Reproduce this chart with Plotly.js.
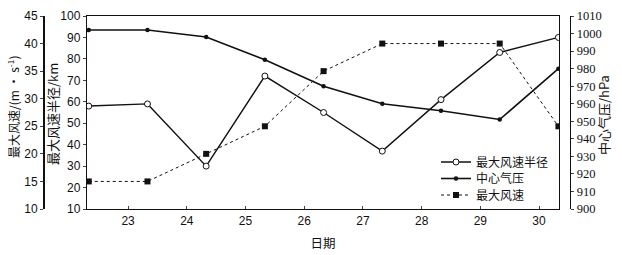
<!DOCTYPE html>
<html><head><meta charset="utf-8">
<script src="https://cdn.plot.ly/plotly-3.0.1.min.js"></script>
<style>body{margin:0;background:#fff}#c{width:622px;height:255px}</style>
</head><body><div id="c"></div>
<script>
const dates = [22.33, 23.33, 24.33, 25.33, 26.33, 27.33, 28.33, 29.33, 30.33];
const radius = [58, 59, 30, 72, 55, 37, 61, 83, 90];
const pressure = [1002, 1002, 998, 985, 970, 960, 956, 951, 980];
const wind = [15, 15, 20, 25, 35, 40, 40, 40, 25];
const xTicks = [23, 24, 25, 26, 27, 28, 29, 30];
const names = ['最大风速半径', '中心气压', '最大风速'];

const cjk = '"Noto Sans CJK SC", "Noto Sans", sans-serif';
const sans = '"Liberation Sans", Arial, sans-serif';
const serif = '"Liberation Serif", "Times New Roman", serif';

const traces = [
  {x: dates, y: radius, name: names[0], yaxis: 'y', legend: 'legend', type: 'scatter', mode: 'lines+markers',
   line: {color: '#111', width: 1.4},
   marker: {symbol: 'circle', size: 6, color: '#fff', line: {color: '#111', width: 1}}},
  {x: dates, y: pressure, name: names[1], yaxis: 'y3', legend: 'legend2', type: 'scatter', mode: 'lines+markers',
   line: {color: '#111', width: 1.6},
   marker: {symbol: 'circle', size: 4.5, color: '#111'}},
  {x: dates, y: wind, name: names[2], yaxis: 'y2', legend: 'legend3', type: 'scatter', mode: 'lines+markers',
   line: {color: '#111', width: 1, dash: 'dot'},
   marker: {symbol: 'square', size: 6, color: '#111'}}
];

const W = 622, T = 16, B = 209;
const py = p => (B - p) / (B - T);
const legFont = {family: cjk, size: 12, color: '#111'};
const leg = yy => ({x: 436/W, y: py(yy), xanchor: 'left', yanchor: 'middle', bgcolor: 'rgba(0,0,0,0)',
  font: legFont, itemwidth: 30, borderwidth: 0});
const ttlFont = {family: cjk, size: 13, color: '#111'};

const layout = {
  width: 622, height: 255,
  margin: {l: 0, r: 0, t: T, b: 255 - B},
  paper_bgcolor: '#fff', plot_bgcolor: '#fff',
  showlegend: true,
  legend: leg(162), legend2: leg(178.5), legend3: leg(195),
  xaxis: {domain: [87/W, 559/W], range: [22.3, 30.34], tickvals: xTicks, ticktext: xTicks.map(String),
    showline: true, linecolor: '#111', linewidth: 1.2, mirror: true, ticks: 'inside', ticklen: 3,
    showgrid: false, zeroline: false,
    tickfont: {family: sans, size: 12, color: '#111'},
    title: {text: '日期', font: {family: cjk, size: 12.5, color: '#111'}, standoff: 12}},
  yaxis: {range: [10, 100], dtick: 10, showline: true, linecolor: '#111', linewidth: 1.2, mirror: true,
    ticks: 'outside', ticklen: 3, showgrid: false, zeroline: false,
    tickfont: {family: sans, size: 12, color: '#111'}},
  yaxis2: {range: [10, 45], dtick: 5, overlaying: 'y', anchor: 'free', position: 43/W, side: 'left',
    showline: true, linecolor: '#111', linewidth: 1.8, ticks: 'outside', ticklen: 3,
    showgrid: false, zeroline: false,
    tickfont: {family: sans, size: 12, color: '#111'}},
  yaxis3: {range: [900, 1010], dtick: 10, overlaying: 'y', anchor: 'free', position: 570/W, side: 'right',
    showline: true, linecolor: '#111', linewidth: 1.2, ticks: 'outside', ticklen: 3,
    showgrid: false, zeroline: false,
    tickfont: {family: serif, size: 12.5, color: '#111'}},
  annotations: [
    {text: '最大风速/(m · s<sup>-1</sup>)', xref: 'paper', yref: 'paper', x: 13/W, y: py(107),
     textangle: -90, showarrow: false, font: {family: cjk, size: 12, color: '#111'}, xanchor: 'center', yanchor: 'middle'},
    {text: '最大风速半径/km', xref: 'paper', yref: 'paper', x: 52/W, y: py(114),
     textangle: -90, showarrow: false, font: ttlFont, xanchor: 'center', yanchor: 'middle'},
    {text: '中心气压/hPa', xref: 'paper', yref: 'paper', x: 603/W, y: py(115),
     textangle: -90, showarrow: false, font: ttlFont, xanchor: 'center', yanchor: 'middle'}
  ]
};

Plotly.newPlot('c', traces, layout, {displayModeBar: false, staticPlot: true});
</script></body></html>
